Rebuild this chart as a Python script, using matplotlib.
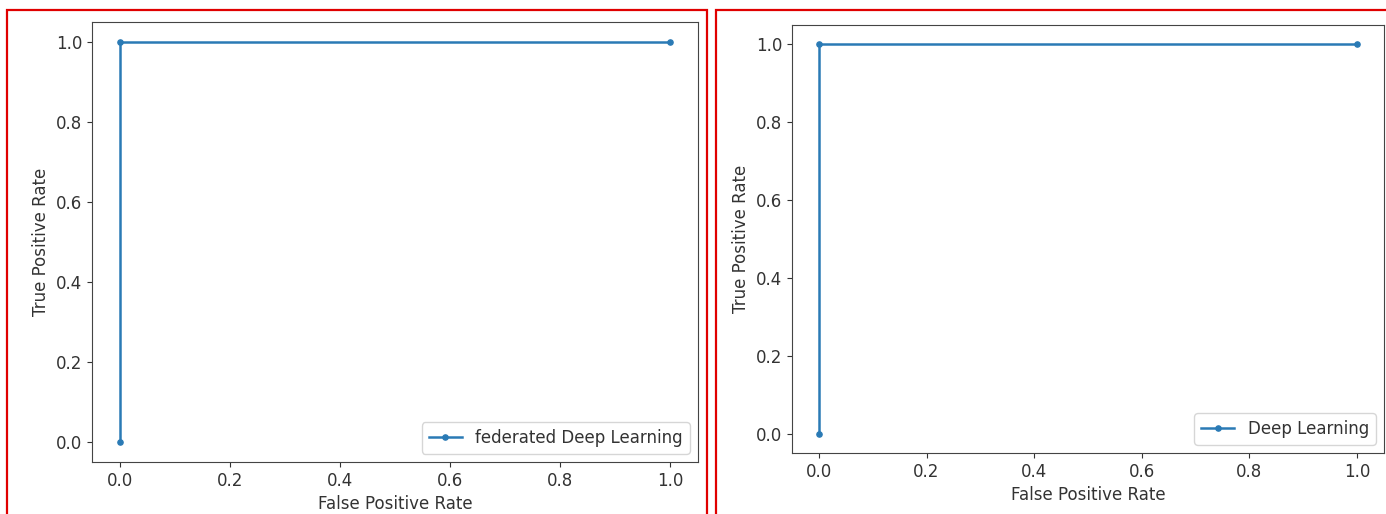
import matplotlib
matplotlib.use("Agg")
import matplotlib.pyplot as plt
from matplotlib.patches import Rectangle

# ROC points
fpr_fed = [0.0, 0.0, 1.0]
tpr_fed = [0.0, 1.0, 1.0]
fpr_dl = [0.0, 0.0, 1.0]
tpr_dl = [0.0, 1.0, 1.0]
labels = ["federated Deep Learning", "Deep Learning"]

W, H = 1386, 514
plt.rcParams.update({
    "font.size": 12,
    "text.color": "#333333",
    "axes.labelcolor": "#333333",
    "xtick.color": "#333333",
    "ytick.color": "#333333",
    "axes.edgecolor": "#444444",
})
fig = plt.figure(figsize=(W / 100, H / 100), dpi=100)


def box(x0, y0, x1, y1):
    # pixel coords (top-left origin) -> figure fraction
    return [x0 / W, 1 - y1 / H, (x1 - x0) / W, (y1 - y0) / H]


def roc_panel(rect, fpr, tpr, label):
    ax = fig.add_axes(box(*rect))
    ax.plot(fpr, tpr, marker=".", markersize=7.5, linewidth=1.8, label=label, color="#2a7ab5")
    ax.set_xlabel("False Positive Rate")
    ax.set_ylabel("True Positive Rate")
    ax.legend(loc="lower right")
    return ax


roc_panel((92, 22, 698, 462), fpr_fed, tpr_fed, labels[0])
roc_panel((792, 25, 1384, 453), fpr_dl, tpr_dl, labels[1])

# red screenshot frames
for x0, x1 in [(7, 707), (716, 1395)]:
    fig.patches.append(Rectangle((x0 / W, -0.05), (x1 - x0) / W, 1 - 10 / H + 0.05,
                                 transform=fig.transFigure, fill=False,
                                 edgecolor="#e00000", linewidth=1.6))

fig.savefig("out.png", dpi=100)
